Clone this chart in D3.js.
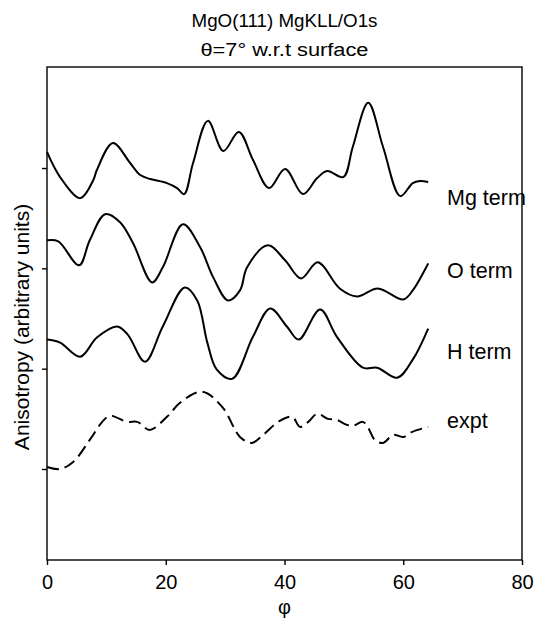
<!DOCTYPE html>
<html>
<head>
<meta charset="utf-8">
<script src="https://cdn.jsdelivr.net/npm/d3@7"></script>
<style>
  body { margin: 0; background: #fff; }
  svg text { font-family: "Liberation Sans", Arial, sans-serif; fill: #000; }
</style>
</head>
<body>
<div id="chart"></div>
<script>
// values: phi (deg) and anisotropy (arbitrary, offset per curve)
const seriesNames = ['Mg term', 'O term', 'H term', 'expt']

const mgPhi = [0, 2.2, 5.6, 7.8, 8.4, 11.1, 14.0, 15.7, 17.4, 20.2, 21.9, 23.1, 24.6, 27.1, 29.7, 32.3, 34.7, 37.4, 40.1, 43.1, 45.5, 47.2, 49.9, 51.5, 54.1, 56.6, 59.5, 61.6, 62.8, 64.2]
const mgVal = [3.16, 2.91, 2.70, 2.88, 2.98, 3.25, 3.05, 2.93, 2.89, 2.85, 2.80, 2.74, 3.05, 3.47, 3.17, 3.36, 3.08, 2.80, 2.99, 2.74, 2.90, 2.97, 2.91, 3.21, 3.65, 3.21, 2.72, 2.85, 2.87, 2.86]

const oPhi = [0, 1.9, 5.4, 7.2, 9.8, 12.3, 14.5, 17.7, 19.5, 22.9, 25.8, 28.0, 30.5, 32.5, 33.7, 37.2, 40.1, 42.8, 45.6, 49.3, 52.2, 55.7, 60.0, 61.6, 64.2]
const oVal = [2.28, 2.27, 2.03, 2.28, 2.54, 2.46, 2.25, 1.86, 2.01, 2.44, 2.21, 1.91, 1.68, 1.78, 2.01, 2.23, 2.08, 1.90, 2.06, 1.80, 1.72, 1.80, 1.69, 1.78, 2.05]

const hPhi = [0, 2.2, 5.6, 8.4, 11.8, 13.6, 16.5, 19.5, 23.2, 25.3, 27.0, 28.6, 31.2, 34.7, 37.6, 40.4, 42.4, 46.0, 48.8, 53.2, 55.6, 59.0, 61.6, 64.2]
const hVal = [1.29, 1.26, 1.12, 1.31, 1.42, 1.34, 1.07, 1.42, 1.81, 1.68, 1.26, 0.99, 0.90, 1.32, 1.60, 1.42, 1.29, 1.59, 1.32, 1.01, 1.01, 0.91, 1.09, 1.40]

const exPhi = [0, 2.2, 4.4, 7.2, 9.3, 10.6, 13.5, 15.2, 17.3, 20.2, 22.4, 26.1, 29.5, 32.5, 34.5, 36.4, 39.2, 41.3, 42.6, 44.0, 45.5, 47.3, 48.8, 50.5, 51.5, 53.2, 54.1, 55.2, 56.6, 58.3, 60.0, 61.5, 64.2]
const exVal = [0.02, 0.00, 0.07, 0.29, 0.47, 0.53, 0.47, 0.47, 0.39, 0.52, 0.66, 0.77, 0.62, 0.32, 0.26, 0.34, 0.48, 0.52, 0.42, 0.47, 0.55, 0.50, 0.49, 0.44, 0.43, 0.47, 0.41, 0.29, 0.26, 0.34, 0.32, 0.37, 0.42]

const xTicks = [0, 20, 40, 60, 80]
const yTicks = [0, 1, 2, 3]

const width = 554
const height = 623
const margin = { top: 67, right: 32, bottom: 63, left: 47 }
const cx = (margin.left + width - margin.right) / 2

const svg = d3
  .select('#chart')
  .append('svg')
  .attr('width', width)
  .attr('height', height)

const x = d3.scaleLinear().domain([0, 80]).range([margin.left, width - margin.right])
const y = d3.scaleLinear().domain([-0.907, 4.007]).range([height - margin.bottom, margin.top])

// frame
svg
  .append('rect')
  .attr('x', margin.left)
  .attr('y', margin.top)
  .attr('width', width - margin.left - margin.right)
  .attr('height', height - margin.top - margin.bottom)
  .attr('fill', 'none')
  .attr('stroke', '#000')
  .attr('stroke-width', 1.4)

const xAxis = svg
  .append('g')
  .attr('transform', 'translate(0,' + (height - margin.bottom) + ')')
  .call(d3.axisBottom(x).tickValues(xTicks).tickSize(5).tickPadding(10))
xAxis.select('.domain').remove()
xAxis.selectAll('line').attr('stroke-width', 1.4)
xAxis.selectAll('text').attr('font-size', 20).attr('font-family', '"Liberation Sans", Arial, sans-serif')

const yAxis = svg
  .append('g')
  .attr('transform', 'translate(' + margin.left + ',0)')
  .call(d3.axisLeft(y).tickValues(yTicks).tickSize(5).tickFormat(''))
yAxis.select('.domain').remove()
yAxis.selectAll('line').attr('stroke-width', 1.4)

// titles (the original lettering is a little wide, hence textLength)
svg
  .append('text')
  .attr('x', cx)
  .attr('y', 27)
  .attr('text-anchor', 'middle')
  .attr('font-size', 18)
  .attr('textLength', 186)
  .attr('lengthAdjust', 'spacingAndGlyphs')
  .text('MgO(111) MgKLL/O1s')

svg
  .append('text')
  .attr('x', cx)
  .attr('y', 56)
  .attr('text-anchor', 'middle')
  .attr('font-size', 18)
  .attr('textLength', 168)
  .attr('lengthAdjust', 'spacingAndGlyphs')
  .text('θ=7° w.r.t surface')

svg
  .append('text')
  .attr('x', cx)
  .attr('y', 614)
  .attr('text-anchor', 'middle')
  .attr('font-size', 20)
  .text('φ')

svg
  .append('text')
  .attr('transform', 'translate(29,327) rotate(-90)')
  .attr('text-anchor', 'middle')
  .attr('font-size', 21)
  .text('Anisotropy (arbitrary units)')

// curves
const series = [
  { phi: mgPhi, val: mgVal, dash: null },
  { phi: oPhi, val: oVal, dash: null },
  { phi: hPhi, val: hVal, dash: null },
  { phi: exPhi, val: exVal, dash: '12,6' }
]

const line = d3
  .line()
  .x((d) => x(d[0]))
  .y((d) => y(d[1]))
  .curve(d3.curveCatmullRom.alpha(0.5))

series.forEach((s) => {
  svg
    .append('path')
    .datum(s.phi.map((p, i) => [p, s.val[i]]))
    .attr('d', line)
    .attr('fill', 'none')
    .attr('stroke', '#000')
    .attr('stroke-width', 2)
    .attr('stroke-dasharray', s.dash)
})

// curve labels
const labelBaselines = [205, 278, 359, 428]
seriesNames.forEach((n, i) => {
  svg
    .append('text')
    .attr('x', 447)
    .attr('y', labelBaselines[i])
    .attr('font-size', 21.5)
    .text(n)
})
</script>
</body>
</html>
